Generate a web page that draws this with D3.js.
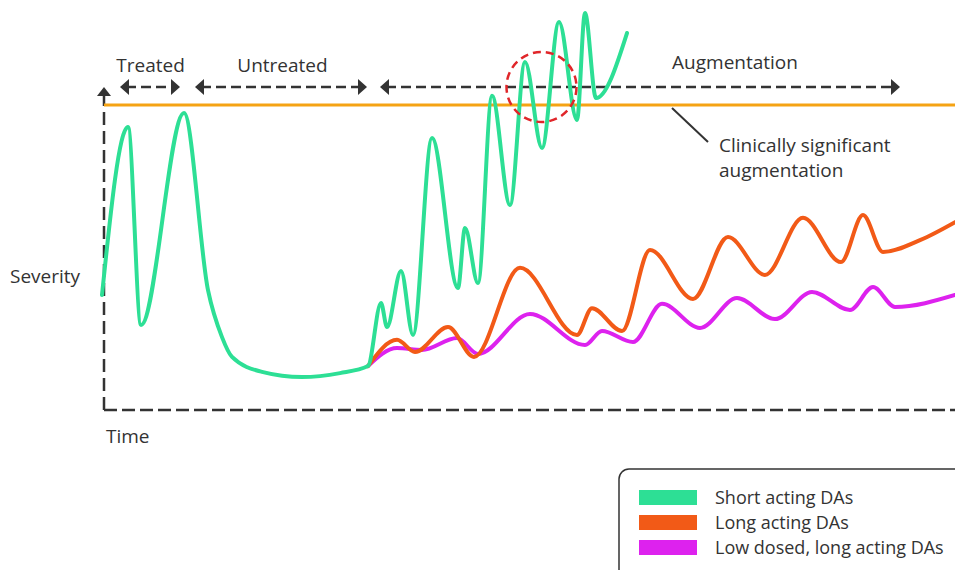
<!DOCTYPE html>
<html>
<head>
<meta charset="utf-8">
<script src="https://cdn.jsdelivr.net/npm/d3@7"></script>
<style>
  html, body { margin: 0; padding: 0; background: #fff; }
  svg { display: block; }
  text { font-family: "Open Sans", "Noto Sans", sans-serif; fill: #333; }
</style>
</head>
<body>
<svg id="chart" width="955" height="570"></svg>
<script>
// ---- Data (time units, severity units; threshold = 100) ----
const shortActingTime = [2, 28, 41, 84, 108, 122, 132, 162, 202, 240, 268, 281, 287, 301, 313, 332, 358, 365, 378, 392, 410, 425, 442, 459, 477, 485, 496, 527];
const shortActingSeverity = [37.7, 92.8, 27.9, 97.4, 39.3, 23.9, 17.4, 12.5, 10.8, 12.1, 14.4, 35.1, 27.2, 45.6, 24.6, 89.2, 40.0, 59.7, 41.6, 103.0, 67.2, 114.1, 85.9, 127.2, 95.1, 130.2, 102.3, 123.6];

const longActingTime = [268, 297, 315, 348, 374, 420, 477, 492, 522, 550, 593, 628, 665, 703, 741, 763, 783, 820, 855];
const longActingSeverity = [14.4, 23.0, 19.0, 27.2, 17.4, 46.6, 24.6, 33.4, 25.9, 52.5, 36.4, 56.7, 44.3, 63.0, 48.5, 63.9, 51.8, 55.7, 61.6];

const lowDosedTime = [268, 297, 322, 357, 378, 430, 485, 502, 533, 562, 600, 637, 675, 712, 750, 773, 795, 855];
const lowDosedSeverity = [14.4, 20.3, 19.7, 23.6, 18.4, 31.5, 21.3, 25.9, 22.3, 34.8, 26.9, 36.7, 29.8, 38.7, 32.8, 40.3, 33.8, 37.7];

const thresholdSeverity = 100;
const phaseLabels = ["Treated", "Untreated", "Augmentation"];
const phaseStart = [20, 95, 280];
const phaseEnd = [80, 267, 800];
const phaseLabelTime = [50.5, 182.5, 635];

const seriesNames = ["Short acting DAs", "Long acting DAs", "Low dosed, long acting DAs"];
const seriesColors = ["#2ddf95", "#f25a17", "#dd22ee"];

// ---- Scales ----
const W = 955, H = 570;
const x = d3.scaleLinear().domain([0, 855]).range([100, 955]);
const y = d3.scaleLinear().domain([0, 100]).range([410, 105]);

const svg = d3.select("#chart");
const dark = "#333";

// Axes (dashed)
const axisTime = 4;
const axisTop = 105.9;
svg.append("line")
  .attr("x1", x(axisTime)).attr("x2", x(axisTime))
  .attr("y1", y(0)).attr("y2", y(axisTop) + 8)
  .attr("stroke", dark).attr("stroke-width", 2.5).attr("stroke-dasharray", "13,6");
svg.append("line")
  .attr("x1", x(axisTime)).attr("x2", W)
  .attr("y1", y(0)).attr("y2", y(0))
  .attr("stroke", dark).attr("stroke-width", 2.5).attr("stroke-dasharray", "13,5");
// y-axis arrowhead
svg.append("path")
  .attr("d", `M${x(axisTime)},${y(axisTop)} l-7,9 l14,0 Z`)
  .attr("fill", dark);

// Threshold line
svg.append("line")
  .attr("x1", x(axisTime)).attr("x2", W)
  .attr("y1", y(thresholdSeverity)).attr("y2", y(thresholdSeverity))
  .attr("stroke", "#f5a314").attr("stroke-width", 3);

// Phase arrows
const arrowY = y(axisTop);
phaseLabels.forEach((lab, i) => {
  const x0 = x(phaseStart[i]), x1 = x(phaseEnd[i]);
  svg.append("line")
    .attr("x1", x0 + 6).attr("x2", x1 - 6)
    .attr("y1", arrowY).attr("y2", arrowY)
    .attr("stroke", dark).attr("stroke-width", 2.6).attr("stroke-dasharray", "10,5");
  svg.append("path").attr("d", `M${x0},${arrowY} l9,-8 l0,16 Z`).attr("fill", dark);
  svg.append("path").attr("d", `M${x1},${arrowY} l-9,-8 l0,16 Z`).attr("fill", dark);
  svg.append("text")
    .attr("x", x(phaseLabelTime[i])).attr("y", i === 2 ? 69 : 72)
    .attr("text-anchor", "middle").attr("font-size", 19)
    .text(lab);
});

// Lines
const line = d3.line().x(d => x(d[0])).y(d => y(d[1])).curve(d3.curveMonotoneX);
const series = [
  d3.zip(lowDosedTime, lowDosedSeverity),
  d3.zip(longActingTime, longActingSeverity),
  d3.zip(shortActingTime, shortActingSeverity)
];
const seriesColorOrder = [seriesColors[2], seriesColors[1], seriesColors[0]];
series.forEach((s, i) => {
  svg.append("path")
    .datum(s)
    .attr("d", line)
    .attr("fill", "none")
    .attr("stroke", seriesColorOrder[i])
    .attr("stroke-width", 4)
    .attr("stroke-linejoin", "round")
    .attr("stroke-linecap", "round");
});

// Red dashed circle
svg.append("circle")
  .attr("cx", x(441.5)).attr("cy", y(axisTop)).attr("r", 35)
  .attr("fill", "none").attr("stroke", "#e0262a").attr("stroke-width", 2.5)
  .attr("stroke-dasharray", "8,5");

// Annotation: clinically significant augmentation
svg.append("line")
  .attr("x1", 672).attr("y1", 108).attr("x2", 708).attr("y2", 142)
  .attr("stroke", dark).attr("stroke-width", 2);
svg.append("text").attr("x", 719).attr("y", 152).attr("font-size", 19).text("Clinically significant");
svg.append("text").attr("x", 719).attr("y", 177).attr("font-size", 19).text("augmentation");

// Axis labels
svg.append("text").attr("x", 10).attr("y", 283).attr("font-size", 19).text("Severity");
svg.append("text").attr("x", 106).attr("y", 443).attr("font-size", 19).text("Time");

// Legend
svg.append("rect")
  .attr("x", 619).attr("y", 469).attr("width", 400).attr("height", 200).attr("rx", 10)
  .attr("fill", "#fff").attr("stroke", dark).attr("stroke-width", 1.5);
seriesNames.forEach((n, i) => {
  const by = 504 + i * 25;
  svg.append("rect").attr("x", 639).attr("y", by - 14).attr("width", 58).attr("height", 15)
    .attr("fill", seriesColors[i]);
  svg.append("text").attr("x", 715).attr("y", by).attr("font-size", 18).text(n);
});
</script>
</body>
</html>
